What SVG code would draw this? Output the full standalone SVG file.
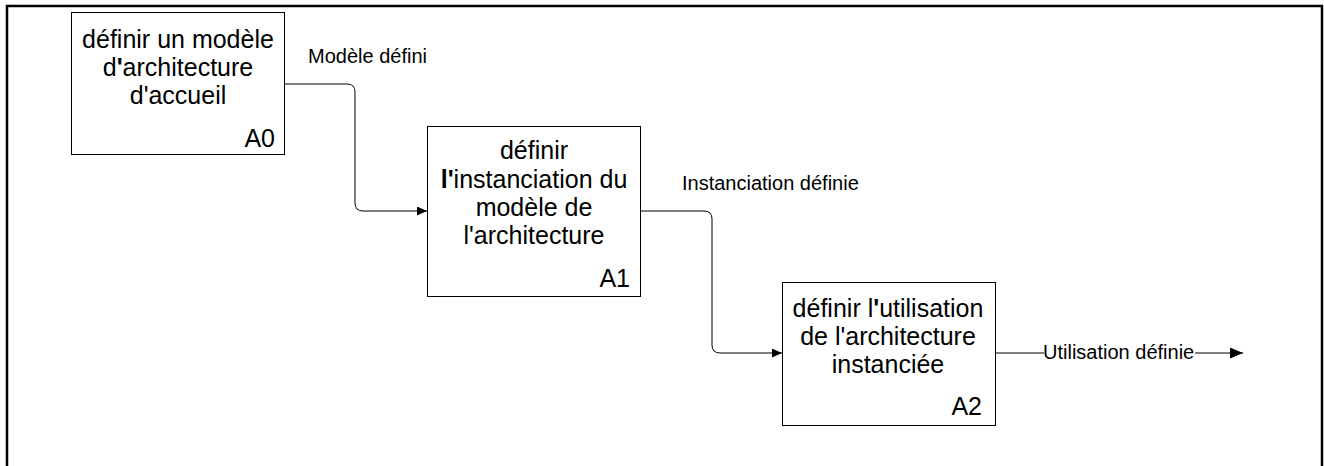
<svg xmlns="http://www.w3.org/2000/svg" width="1324" height="466" viewBox="0 0 1324 466">
<style>
.box{fill:#fff;stroke:#000;stroke-width:1}
.t{font-family:"Liberation Sans",Arial,sans-serif;font-size:25px;fill:#000;text-anchor:middle}
.id{font-family:"Liberation Sans",Arial,sans-serif;font-size:25px;fill:#000;text-anchor:end}
.lbl{font-family:"Liberation Sans",Arial,sans-serif;font-size:20px;fill:#000}
.c{fill:none;stroke:#000;stroke-width:1}
.b{font-weight:bold}
</style>
<defs>
<marker id="arr" markerWidth="12" markerHeight="10" refX="10" refY="4.5" orient="auto" markerUnits="userSpaceOnUse">
<path d="M0,0 L10,4.5 L0,9 Z" fill="#000"/>
</marker>
<marker id="arrL" markerWidth="15" markerHeight="12" refX="13" refY="5.5" orient="auto" markerUnits="userSpaceOnUse">
<path d="M0,0 L13,5.5 L0,11 Z" fill="#000"/>
</marker>
</defs>
<rect x="0" y="0" width="1324" height="466" fill="#fff"/>
<rect x="7" y="6" width="1315" height="470" fill="none" stroke="#000" stroke-width="2.5"/>
<g id="connectors">
<path class="c" d="M284,84 H347 Q355,84 355,92 V203 Q355,211 363,211 H427" marker-end="url(#arr)"/>
<path class="c" d="M640,211 H704 Q712,211 712,219 V345 Q712,353 720,353 H782" marker-end="url(#arr)"/>
<path class="c" d="M995,353 H1243" marker-end="url(#arrL)"/>
<text class="lbl" x="308" y="63">Modèle défini</text>
<text class="lbl" x="682" y="190">Instanciation définie</text>
<rect x="1044" y="341" width="151" height="22" fill="#fff"/>
<text class="lbl" x="1043" y="359">Utilisation définie</text>
</g>
<g id="A0">
<rect class="box" x="71.5" y="12.5" width="213" height="142"/>
<text class="t" x="178" y="48">définir un modèle</text>
<text class="t" x="178" y="76">d<tspan class="b">'</tspan>architecture</text>
<text class="t" x="178" y="104">d'accueil</text>
<text class="id" x="275" y="147">A0</text>
</g>
<g id="A1">
<rect class="box" x="427.5" y="126.5" width="213" height="170"/>
<text class="t" x="534" y="159">définir</text>
<text class="t" x="534" y="188"><tspan class="b">l'</tspan>instanciation du</text>
<text class="t" x="534" y="216">modèle de</text>
<text class="t" x="534" y="244">l'architecture</text>
<text class="id" x="630" y="287">A1</text>
</g>
<g id="A2">
<rect class="box" x="782.5" y="282.5" width="213" height="143"/>
<text class="t" x="888" y="317">définir l<tspan class="b">'</tspan>utilisation</text>
<text class="t" x="888" y="345">de l'architecture</text>
<text class="t" x="888" y="373">instanciée</text>
<text class="id" x="982" y="415">A2</text>
</g>
</svg>
